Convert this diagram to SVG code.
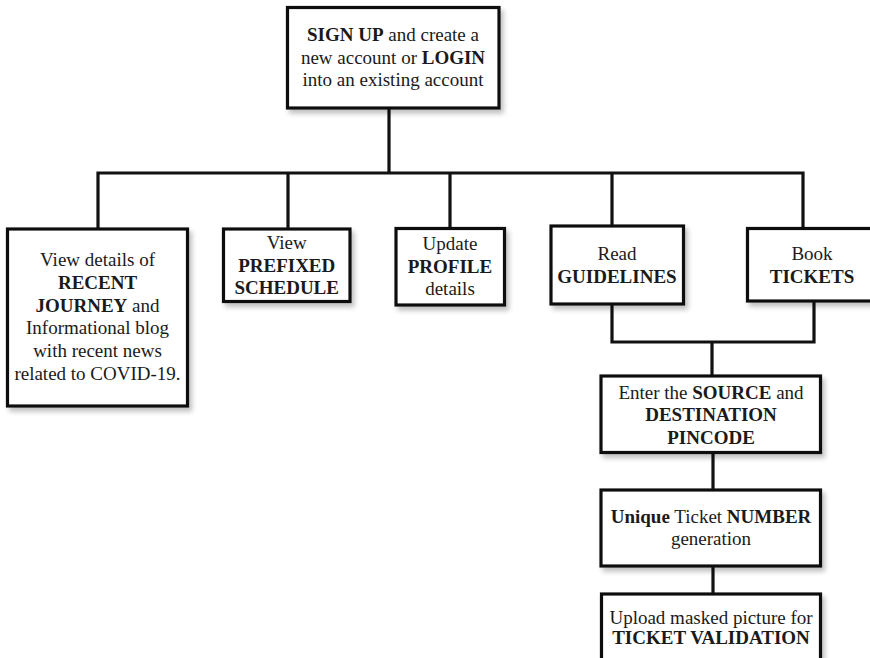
<svg xmlns="http://www.w3.org/2000/svg" width="870" height="658" viewBox="0 0 870 658">
<defs>
<filter id="sh" x="-10%" y="-10%" width="130%" height="130%">
<feGaussianBlur in="SourceAlpha" stdDeviation="2.5"/>
<feOffset dx="3" dy="4" result="b"/>
<feComponentTransfer><feFuncA type="linear" slope="0.25"/></feComponentTransfer>
<feMerge><feMergeNode/><feMergeNode in="SourceGraphic"/></feMerge>
</filter>
</defs>
<style>
.box{fill:#fff;stroke:#111;stroke-width:3.2;filter:url(#sh)}
.ln{fill:none;stroke:#111;stroke-width:3.2;stroke-linecap:square}
text{font-family:"Liberation Serif","Times New Roman",serif;font-size:19px;fill:#1a1a1a;text-anchor:middle}
.b{font-weight:bold}
</style>
<rect width="870" height="658" fill="#fff"/>
<g id="connectors">
<path class="ln" d="M389 108 V173 M98 173 H803 M98 173 V229 M288 173 V229 M450 173 V228 M612 173 V226 M803 173 V228"/>
<path class="ln" d="M612 304 V342 H814 V301 M712 342 V376 M713 453 V490 M713 566 V594"/>
</g>
<g id="n_signup">
<rect class="box" x="287.5" y="7.5" width="211.5" height="100.5"/>
<text x="393" y="41"><tspan class="b">SIGN UP</tspan> and create a</text>
<text x="393" y="63.5">new account or <tspan class="b">LOGIN</tspan></text>
<text x="393" y="86">into an existing account</text>
</g>
<g id="n_recent">
<rect class="box" x="7.5" y="229" width="180" height="177"/>
<text x="97.5" y="266">View details of</text>
<text x="97.5" y="289" class="b">RECENT</text>
<text x="97.5" y="311.5"><tspan class="b">JOURNEY</tspan> and</text>
<text x="97.5" y="334">Informational blog</text>
<text x="97.5" y="356.5">with recent news</text>
<text x="97.5" y="379.5">related to COVID-19.</text>
</g>
<g id="n_schedule">
<rect class="box" x="223.5" y="229" width="126.5" height="72.5"/>
<text x="286.7" y="249">View</text>
<text x="286.7" y="271.5" class="b">PREFIXED</text>
<text x="286.7" y="293.5" class="b">SCHEDULE</text>
</g>
<g id="n_profile">
<rect class="box" x="396" y="228.5" width="108.5" height="76.5"/>
<text x="450" y="250">Update</text>
<text x="450" y="272.5" class="b">PROFILE</text>
<text x="450" y="295">details</text>
</g>
<g id="n_guidelines">
<rect class="box" x="551" y="226" width="132.5" height="78"/>
<text x="617" y="260">Read</text>
<text x="617" y="282.5" class="b">GUIDELINES</text>
</g>
<g id="n_tickets">
<rect class="box" x="747.5" y="228.5" width="130" height="72.5"/>
<text x="812" y="260">Book</text>
<text x="812" y="282.5" class="b">TICKETS</text>
</g>
<g id="n_source">
<rect class="box" x="601" y="376" width="219.5" height="76.5"/>
<text x="711" y="398.5">Enter the <tspan class="b">SOURCE</tspan> and</text>
<text x="711" y="421" class="b">DESTINATION</text>
<text x="711" y="444" class="b">PINCODE</text>
</g>
<g id="n_number">
<rect class="box" x="601" y="490" width="219.5" height="76"/>
<text x="711" y="522.5"><tspan class="b">Unique</tspan> Ticket <tspan class="b">NUMBER</tspan></text>
<text x="711" y="545">generation</text>
</g>
<g id="n_upload">
<rect class="box" x="601.5" y="594" width="219" height="80"/>
<text x="711" y="623.5">Upload masked picture for</text>
<text x="711" y="644" class="b">TICKET VALIDATION</text>
</g>
</svg>
